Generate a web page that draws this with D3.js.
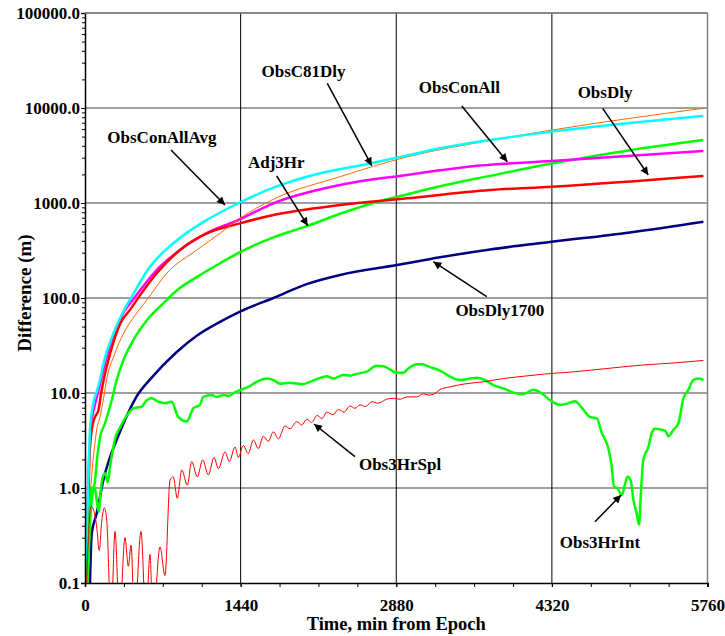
<!DOCTYPE html>
<html><head><meta charset="utf-8">
<script src="https://cdn.jsdelivr.net/npm/d3@7"></script>
<style>
body{margin:0;background:#fff}
text{font-family:"Liberation Serif","Times New Roman",serif;font-weight:bold;fill:#000}
</style>
</head><body>
<svg id="chart" width="725" height="636"></svg>
<script>
// ---- data ----
const xTickValues = [0, 1440, 2880, 4320, 5760];
const yTickValues = [0.1, 1, 10, 100, 1000, 10000, 100000];
const xLabel = "Time, min from Epoch";
const yLabel = "Difference (m)";

const obsConAllAvg = [[12,0.1],[22,0.5],[33,1.5],[46,4.1],[77,7.8],[110,10.5],[139,13.7],[169,20],[262,42],[355,72],[432,103],[601,213],[817,377],[1126,662],[1404,976],[1743,1450],[2051,1892],[2668,2655],[2977,3160],[3285,3766],[3748,4600],[4319,5640],[5722,8240]];
const obsC81Dly = [[30,0.1],[45,0.6],[65,1.5],[85,2.5],[108,4.1],[139,5.6],[169,8.4],[201,14],[270,25],[355,42],[460,65],[571,95],[756,182],[1034,320],[1250,480],[1434,690],[1743,1094],[2360,1892],[2977,3050],[3748,4550],[4319,5860],[5722,9930]];
const obsConAll = [[14,0.1],[25,0.6],[38,2],[55,4.5],[85,7],[120,10],[150,14],[200,24],[262,40],[355,70],[447,97],[663,197],[879,320],[1187,520],[1404,650],[1743,993],[2360,1546],[2977,1972],[3655,2480],[4319,2760],[5722,3525]];
const obsDly = [[16,0.1],[28,0.6],[40,2],[62,4.1],[93,5.6],[123,6.5],[150,10],[180,15],[215,22],[262,34],[330,55],[416,75],[478,95],[663,182],[879,320],[1126,478],[1434,610],[1743,748],[2360,953],[2977,1120],[3748,1370],[4319,1483],[5722,1923]];
const adj3Hr = [[25,0.1],[45,0.4],[65,0.8],[93,1.2],[115,2.2],[139,3.4],[185,4.8],[220,6.5],[247,8.4],[293,13.7],[354,22],[447,36],[571,58],[725,88],[849,120],[1034,166],[1249,232],[1434,304],[1743,435],[2051,570],[2360,770],[2668,1000],[2977,1230],[3285,1500],[3748,1930],[4319,2600],[5043,3600],[5722,4600]];
const obsDly1700 = [[46,0.1],[62,0.33],[108,0.54],[139,0.81],[169,1.2],[231,2.1],[278,2.9],[370,5.2],[478,9.2],[617,14.5],[849,27],[1034,40],[1249,56],[1434,72],[1743,100],[2051,140],[2360,175],[2884,222],[3285,268],[3748,324],[4319,390],[5043,490],[5722,635]];
const obs3HrSpl = [[5,0.03],[16,0.1],[40,0.45],[56,0.64],[77,0.6],[108,0.39],[132,0.22],[155,0.45],[179,0.62],[201,0.46],[241,0.04],[278,0.35],[319,0.04],[370,0.30],[401,0.15],[426,0.25],[458,0.04],[518,0.35],[564,0.04],[601,0.2],[629,0.04],[694,0.24],[740,0.12],[787,1.21],[817,1.31],[854,0.78],[895,1.55],[947,1.07],[987,1.9],[1039,1.31],[1089,1.98],[1141,1.37],[1194,2.1],[1234,1.6],[1296,2.4],[1335,1.9],[1388,2.7],[1419,2.1],[1465,2.8],[1511,2.3],[1558,3.2],[1604,2.6],[1650,3.5],[1696,3.1],[1743,3.9],[1789,3.3],[1851,4.5],[1897,4.2],[1959,5.0],[2005,4.6],[2052,5.3],[2098,4.9],[2147,5.8],[2193,5.4],[2239,6.3],[2295,5.9],[2344,6.7],[2397,6.3],[2452,7.3],[2498,6.9],[2545,7.5],[2596,7.2],[2653,8.1],[2711,7.8],[2792,8.6],[2853,8.8],[2915,8.6],[2977,9.1],[3070,9.1],[3131,9.8],[3183,9.5],[3239,9.9],[3285,10.9],[3378,11.6],[3501,12.4],[3686,13.1],[3871,14.2],[4056,15.0],[4241,15.8],[4519,16.7],[4828,18.1],[5136,19.6],[5444,20.7],[5722,22]];
const obs3HrInt = [[20,0.1],[35,0.3],[50,0.7],[62,1.0],[80,1.02],[95,0.95],[110,0.72],[128,0.56],[142,0.85],[160,1.25],[185,1.43],[210,1.15],[235,1.8],[255,2.4],[278,3.3],[324,4.3],[370,5.4],[447,6.9],[525,7.2],[571,8.4],[617,8.8],[678,8.1],[740,7.8],[802,8.1],[863,5.6],[941,5.0],[1002,6.9],[1064,7.5],[1095,9.1],[1172,9.5],[1219,9.1],[1280,9.5],[1330,9.3],[1388,10.2],[1434,10.7],[1511,11.6],[1589,13.1],[1681,14.2],[1743,13.7],[1805,12.5],[1881,12.8],[1959,12.6],[2005,12.4],[2082,13.1],[2159,14.2],[2237,15],[2298,14.2],[2390,15.5],[2452,15.2],[2514,15.9],[2607,16.8],[2699,19.3],[2761,19.1],[2822,17.7],[2884,16.3],[2946,16.3],[2992,18.1],[3070,20.1],[3116,20.1],[3193,18.7],[3285,17.2],[3378,14.9],[3470,13.7],[3563,14.2],[3625,14.5],[3702,13.7],[3778,12.1],[3871,11.2],[3964,10.1],[4056,9.7],[4149,10.8],[4226,9.9],[4303,8.4],[4396,7.5],[4473,7.8],[4534,8.2],[4596,7.0],[4673,5.6],[4735,5.4],[4782,3.8],[4843,2.6],[4874,1.67],[4895,1.03],[4926,1.0],[4967,0.84],[4997,1.1],[5019,1.31],[5050,1.2],[5074,0.75],[5105,0.54],[5127,0.41],[5142,0.81],[5166,1.98],[5213,2.7],[5244,3.8],[5275,4.2],[5337,4.1],[5368,4.0],[5399,3.5],[5445,4.1],[5491,4.8],[5537,8.8],[5583,10.8],[5629,13.7],[5676,14.2],[5722,13.7]];

// annotation labels: [text, labelX, labelY, arrowFromX, arrowFromY, arrowToX, arrowToY] (data units)
const annotations = [
  ["ObsConAllAvg", 712, 4281, 796, 3613, 1295, 952],
  ["ObsC81Dly", 2022, 21360, 2242, 18200, 2653, 2469],
  ["Adj3Hr", 1770, 2319, 1774, 1924, 2061, 577],
  ["ObsConAll", 3464, 14280, 3486, 10500, 3908, 2720],
  ["ObsDly", 4812, 12650, 4790, 9927, 5212, 1971],
  ["ObsDly1700", 3838, 63.9, 3717, 103.2, 3223, 241],
  ["Obs3HrSpl", 2915, 1.547, 2498, 2.136, 2119, 4.72],
  ["Obs3HrInt", 4765, 0.2319, 4719, 0.4417, 4960, 0.844]
];

// ---- styles ----
const seriesDefs = [
  {data: obsDly1700, color: "#000080", w: 2.5},
  {data: adj3Hr, color: "#00ff00", w: 2.5},
  {data: obsConAll, color: "#ff00ff", w: 2.5},
  {data: obsDly, color: "#ff0000", w: 2.5},
  {data: obsC81Dly, color: "#ff6600", w: 1},
  {data: obsConAllAvg, color: "#00ffff", w: 2.5},
  {data: obs3HrInt, color: "#00ff00", w: 2.5},
  {data: obs3HrSpl, color: "#ff0000", w: 1}
];

const L = 85, R = 707.5, T = 13, B = 583;
const svg = d3.select("#chart");
const x = d3.scaleLinear().domain([0, 5760]).range([L, R]);
const y = d3.scaleLog().domain([0.1, 100000]).range([B, T]);

// gridlines
svg.append("g").selectAll("line").data(yTickValues.slice(1)).join("line")
  .attr("x1", L).attr("x2", R).attr("y1", d => y(d)).attr("y2", d => y(d))
  .attr("stroke", "#808080").attr("stroke-width", 1.5);
svg.append("g").selectAll("line").data(xTickValues.slice(1, -1)).join("line")
  .attr("x1", d => x(d)).attr("x2", d => x(d)).attr("y1", T).attr("y2", B)
  .attr("stroke", "#000").attr("stroke-width", 1);
svg.append("line").attr("x1", x(5760)).attr("x2", x(5760)).attr("y1", T).attr("y2", B)
  .attr("stroke", "#808080").attr("stroke-width", 1.5);

// series
svg.append("clipPath").attr("id", "clip").append("rect")
  .attr("x", L).attr("y", T).attr("width", R - L).attr("height", B - T);
const line = d3.line().x(d => x(d[0])).y(d => y(d[1])).curve(d3.curveMonotoneX);
const gS = svg.append("g").attr("clip-path", "url(#clip)");
seriesDefs.forEach(s => {
  gS.append("path").attr("d", line(s.data)).attr("fill", "none")
    .attr("stroke", s.color).attr("stroke-width", s.w).attr("stroke-linejoin", "round");
});

// axes
const minorY = [];
for (let e = -1; e < 5; e++) for (let m = 2; m <= 9; m++) minorY.push(m * Math.pow(10, e));
const minorX = d3.range(0, 5761, 360);

svg.append("g").attr("transform", `translate(${L},0)`)
  .call(d3.axisLeft(y).tickValues(minorY).tickSize(3).tickFormat(""))
  .call(g => g.select(".domain").remove())
  .call(g => g.selectAll("line").attr("stroke-width", 1));
const gy = svg.append("g").attr("transform", `translate(${L},0)`)
  .call(d3.axisLeft(y).tickValues(yTickValues).tickSize(4).tickPadding(1).tickFormat(d3.format(".1f")));
gy.select(".domain").attr("stroke-width", 1.5);
gy.selectAll("text").attr("font-size", 17).attr("font-family", "Liberation Serif").attr("font-weight", "bold");

svg.append("g").attr("transform", `translate(0,${B})`)
  .call(d3.axisBottom(x).tickValues(minorX).tickSize(4).tickFormat(""))
  .call(g => g.select(".domain").remove());
const gx = svg.append("g").attr("transform", `translate(0,${B})`)
  .call(d3.axisBottom(x).tickValues(xTickValues).tickSize(4).tickPadding(12).tickFormat(d3.format("d")));
gx.select(".domain").attr("stroke-width", 1.5);
gx.selectAll("text").attr("font-size", 17).attr("font-family", "Liberation Serif").attr("font-weight", "bold");

// top border
svg.append("line").attr("x1", L).attr("x2", R).attr("y1", T).attr("y2", T)
  .attr("stroke", "#808080").attr("stroke-width", 1.5);

// axis titles
svg.append("text").attr("x", (L + R) / 2).attr("y", 630).attr("text-anchor", "middle")
  .attr("font-size", 18.5).text(xLabel);
svg.append("text").attr("transform", `translate(31,${(T + B) / 2 - 5}) rotate(-90)`)
  .attr("text-anchor", "middle").attr("font-size", 19).text(yLabel);

// annotations
svg.append("defs").append("marker").attr("id", "arr").attr("viewBox", "0 0 10 10")
  .attr("refX", 10).attr("refY", 5).attr("markerWidth", 11).attr("markerHeight", 8)
  .attr("markerUnits", "userSpaceOnUse").attr("orient", "auto")
  .append("path").attr("d", "M0,0L10,5L0,10Z").attr("fill", "#000");
const gA = svg.append("g");
annotations.forEach(a => {
  gA.append("text").attr("x", x(a[1])).attr("y", y(a[2])).attr("text-anchor", "middle")
    .attr("font-size", 17).text(a[0]);
  gA.append("line").attr("x1", x(a[3])).attr("y1", y(a[4])).attr("x2", x(a[5])).attr("y2", y(a[6]))
    .attr("stroke", "#000").attr("stroke-width", 1.5).attr("marker-end", "url(#arr)");
});
</script>
</body></html>
